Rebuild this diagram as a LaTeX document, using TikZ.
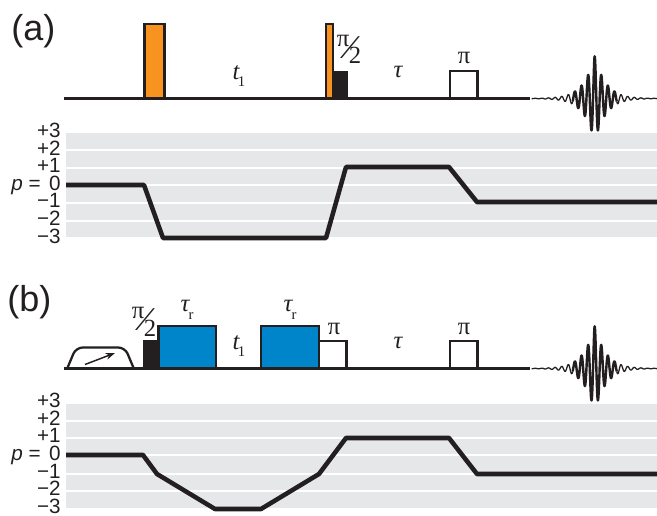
\documentclass[tikz,border=0pt]{standalone}
\usepackage{fontspec}
\setmainfont{Liberation Sans}
\newfontfamily\serf{Liberation Serif}
\usetikzlibrary{arrows.meta}
\definecolor{ink}{HTML}{231F20}
\definecolor{band}{HTML}{E6E7E8}
\definecolor{orangep}{HTML}{F7931E}
\definecolor{bluep}{HTML}{0085CA}
\tikzset{
  x=0.75pt,y=-0.75pt,
  line/.style={ink,line width=2pt},
  pulse/.style={draw=ink,line width=2.1pt,line join=miter},
  coh/.style={ink,line width=3.4pt,line join=round},
  sep/.style={white,line width=1.5pt},
  lev/.style={font=\fontsize{15.5}{15.5}\selectfont,anchor=base east,inner sep=0pt,text=ink},
  panel/.style={font=\fontsize{27}{27}\selectfont,anchor=base west,inner sep=0pt,text=ink},
  sym/.style={font=\serf\fontsize{18.5}{18.5}\selectfont,anchor=base,inner sep=0pt,text=ink},
  symi/.style={font=\serf\itshape\fontsize{18.5}{18.5}\selectfont,anchor=base,inner sep=0pt,text=ink},
  subs/.style={font=\serf\fontsize{11}{11}\selectfont,anchor=base,inner sep=0pt,text=ink},
  slash/.style={font=\serf\fontsize{25}{25}\selectfont,inner sep=0pt,text=ink,xscale=1.15},
  wave/.style={ink,line join=round,smooth}
}
\begin{document}
\begin{tikzpicture}
\useasboundingbox (0,0) rectangle (657,515);
% bands a
\fill[band] (66,133) rectangle (657,237);
\foreach \yy in {150,168,185,203,221}{\draw[sep] (66,\yy) -- (657,\yy);}
% bands b
\fill[band] (66,404) rectangle (657,508);
\foreach \yy in {421,438,455,474,491}{\draw[sep] (66,\yy) -- (657,\yy);}
% panel a pulses
\node[panel] (la) at (11,40) {(a)};
\draw[line] (64,98.5) -- (530,98.5);
\filldraw[pulse,fill=orangep] (144.5,98.5) rectangle (164.5,24);
\filldraw[pulse,fill=orangep] (326,98.5) rectangle (333,24);
\fill[ink] (333,98.5) rectangle (347.5,70.5);
\draw[pulse] (450,98.5) |- (477.5,71) -- (477.5,98.5);
\node[symi] (t1a) at (236,79) {t};
\node[subs] (t1as) at (241.5,86) {1};
\node[symi] (taua) at (398,77) {τ};
\node[sym] (pa2) at (464,63) {π};
\node[sym] (pa1) at (343,46) {π};
\node[sym] (twoa) at (355,63) {2};
\node[slash] (sla) at (350,48) {⁄};
% wave a
\foreach \yc in {98.5}{
\draw[wave,line width=0.95pt] plot[domain=-63:-22,samples=130] ({594.7+\x},{\yc-43*exp(-abs(\x)/11)*cos(\x*54.5)});
\draw[wave,line width=0.95pt] plot[domain=22:62.3,samples=130] ({594.7+\x},{\yc-43*exp(-abs(\x)/11)*cos(\x*54.5)});
\draw[wave,line width=1.8pt] plot[domain=-22:22,samples=160] ({594.7+\x},{\yc-43*exp(-abs(\x)/11)*cos(\x*54.5)});
}
% p labels a
\node[lev] (a3) at (61,137.5) {+3};
\node[lev] (a2) at (61,155) {+2};
\node[lev] (a1) at (61,172) {+1};
\node[lev] (a0) at (61,190) {0};
\node[lev,anchor=base west] (ap) at (11,190) {\textit{p} =};
\node[lev] (am1) at (61,207.5) {−1};
\node[lev] (am2) at (61,225) {−2};
\node[lev] (am3) at (61,243) {−3};
\draw[coh] (66,185) -- (144,185) -- (163,238) -- (326,238) -- (346,167) -- (449,167) -- (477,202) -- (657,202);
% panel b pulses
\node[panel] (lb) at (7,311) {(b)};
\draw[line] (64,368.5) -- (530,368.5);
\draw[ink,line width=1.7pt,rounded corners=5pt] (67,369) -- (76,347.5) -- (125,347.5) -- (134,369);
\draw[ink,line width=1.1pt,-{Stealth[length=7pt,width=5pt]}] (85,364.5) -- (115,353);
\fill[ink] (143,368.5) rectangle (158,340);
\filldraw[pulse,fill=bluep] (158.5,368.5) rectangle (216,326);
\filldraw[pulse,fill=bluep] (261,368.5) rectangle (319,326);
\draw[pulse] (319,341) -- (346.5,341) -- (346.5,368.5);
\draw[pulse] (450,368.5) |- (477.5,341) -- (477.5,368.5);
\node[symi] (t1b) at (236,349) {t};
\node[subs] (t1bs) at (241.5,356) {1};
\node[symi] (taub) at (398,348) {τ};
\node[sym] (pb2) at (334,334) {π};
\node[sym] (pb3) at (464,334) {π};
\node[sym] (pb1) at (138,318) {π};
\node[sym] (twob) at (150,336) {2};
\node[slash] (slb) at (145,320) {⁄};
\node[symi] (tr1) at (185,311) {τ};
\node[subs] (tr1s) at (191,319) {r};
\node[symi] (tr2) at (288,311) {τ};
\node[subs] (tr2s) at (294,319) {r};
% wave b
\foreach \yc in {368.5}{
\draw[wave,line width=0.95pt] plot[domain=-63:-22,samples=130] ({594.7+\x},{\yc-43*exp(-abs(\x)/11)*cos(\x*54.5)});
\draw[wave,line width=0.95pt] plot[domain=22:62.3,samples=130] ({594.7+\x},{\yc-43*exp(-abs(\x)/11)*cos(\x*54.5)});
\draw[wave,line width=1.8pt] plot[domain=-22:22,samples=160] ({594.7+\x},{\yc-43*exp(-abs(\x)/11)*cos(\x*54.5)});
}
% p labels b
\node[lev] (b3) at (61,407.5) {+3};
\node[lev] (b2) at (61,425) {+2};
\node[lev] (b1) at (61,442) {+1};
\node[lev] (b0) at (61,460) {0};
\node[lev,anchor=base west] (bp) at (11,460) {\textit{p} =};
\node[lev] (bm1) at (61,478) {−1};
\node[lev] (bm2) at (61,495.5) {−2};
\node[lev] (bm3) at (61,513) {−3};
\draw[coh] (66,455) -- (143,455) -- (157,474) -- (215,509) -- (261,509) -- (319,474) -- (346,438) -- (449,438) -- (477,474) -- (657,474);
\end{tikzpicture}
\end{document}
